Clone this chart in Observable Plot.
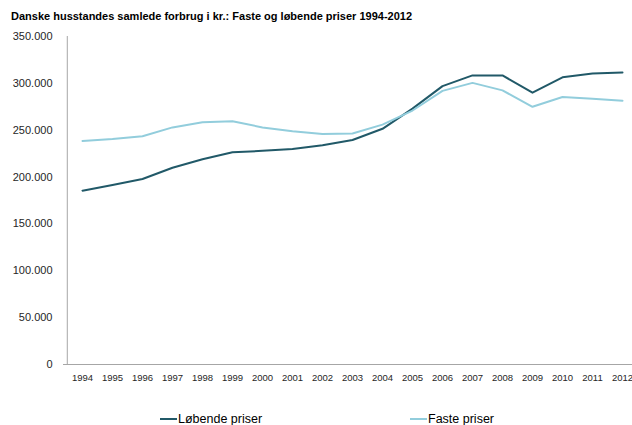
<!DOCTYPE html>
<html><head><meta charset="utf-8">
<script src="https://cdn.jsdelivr.net/npm/d3@7"></script>
<script src="https://cdn.jsdelivr.net/npm/@observablehq/plot@0.6"></script>
<style>
html,body{margin:0;padding:0;background:#fff;overflow:hidden;width:632px;height:425px;}
body{font-family:"Liberation Sans",Arial,sans-serif;position:relative;}
#title{position:absolute;left:11px;top:10px;font-size:11px;font-weight:bold;color:#000;white-space:nowrap;}
#chart{position:absolute;left:0;top:28px;width:641px;}
#chart svg{max-width:none !important;}
.leg{position:absolute;top:412px;font-size:12.5px;color:#000;white-space:nowrap;display:flex;align-items:center;}
.sw{display:inline-block;width:17px;height:0;border-top:2px solid;margin-right:1px;}
</style></head>
<body>
<div id="title">Danske husstandes samlede forbrug i kr.: Faste og løbende priser 1994-2012</div>
<div id="chart"></div>
<div class="leg" style="left:160px"><span class="sw" style="border-color:#215968"></span>Løbende priser</div>
<div class="leg" style="left:410px"><span class="sw" style="border-color:#92cddc"></span>Faste priser</div>
<script>
const years = ["1994","1995","1996","1997","1998","1999","2000","2001","2002","2003","2004","2005","2006","2007","2008","2009","2010","2011","2012"];
const loebende = [185500,191500,198000,210000,219000,226500,228000,230000,234000,239500,251500,273000,297000,308500,308500,290000,306500,310500,311500];
const faste = [238500,240500,243500,253000,258500,259500,253000,249000,246000,246500,256000,271000,292000,300500,292500,275000,285500,283500,281500];
const yTicks = [0,50000,100000,150000,200000,250000,300000,350000];
const seriesNames = ["Løbende priser","Faste priser"];

const rows = [];
years.forEach((y,i)=>{ rows.push({year:y, value:loebende[i], serie:seriesNames[0]}); });
years.forEach((y,i)=>{ rows.push({year:y, value:faste[i], serie:seriesNames[1]}); });

const fmt = d3.formatLocale({decimal:",", thousands:".", grouping:[3], currency:["",""]}).format(",");
const W = 641, ML = 63, MR = 0;
const step = (W - ML - MR) / years.length;

const chart = Plot.plot({
  width: W, height: 372,
  marginLeft: ML, marginRight: MR, marginTop: 8, marginBottom: 36,
  style: {fontFamily: '"Liberation Sans", Arial, sans-serif', background: "#fff", color: "#262626", maxWidth: "none"},
  x: {type: "point", domain: years, padding: 0.5, label: null, tickSize: 0, tickPadding: 10},
  y: {domain: [0, 350000], ticks: yTicks, tickFormat: fmt, label: null, tickSize: 0, tickPadding: 11},
  color: {domain: seriesNames, range: ["#215968", "#92cddc"]},
  marks: [
    Plot.ruleY([0], {stroke: "#a6a6a6", strokeWidth: 1}),
    Plot.ruleX([years[0]], {y1: 0, y2: 350000, dx: -step/2, stroke: "#a6a6a6", strokeWidth: 1}),
    Plot.line(rows, {x: "year", y: "value", stroke: "serie", z: "serie", strokeWidth: 2})
  ]
});
chart.style.maxWidth = "none";
chart.querySelectorAll('g[aria-label="y-axis"] text, [aria-label="y-axis tick label"] text').forEach(t=>t.setAttribute("font-size","11"));
chart.querySelectorAll('g[aria-label="x-axis"] text, [aria-label="x-axis tick label"] text').forEach(t=>t.setAttribute("font-size","9.5"));
document.getElementById("chart").appendChild(chart);
</script>
</body></html>
